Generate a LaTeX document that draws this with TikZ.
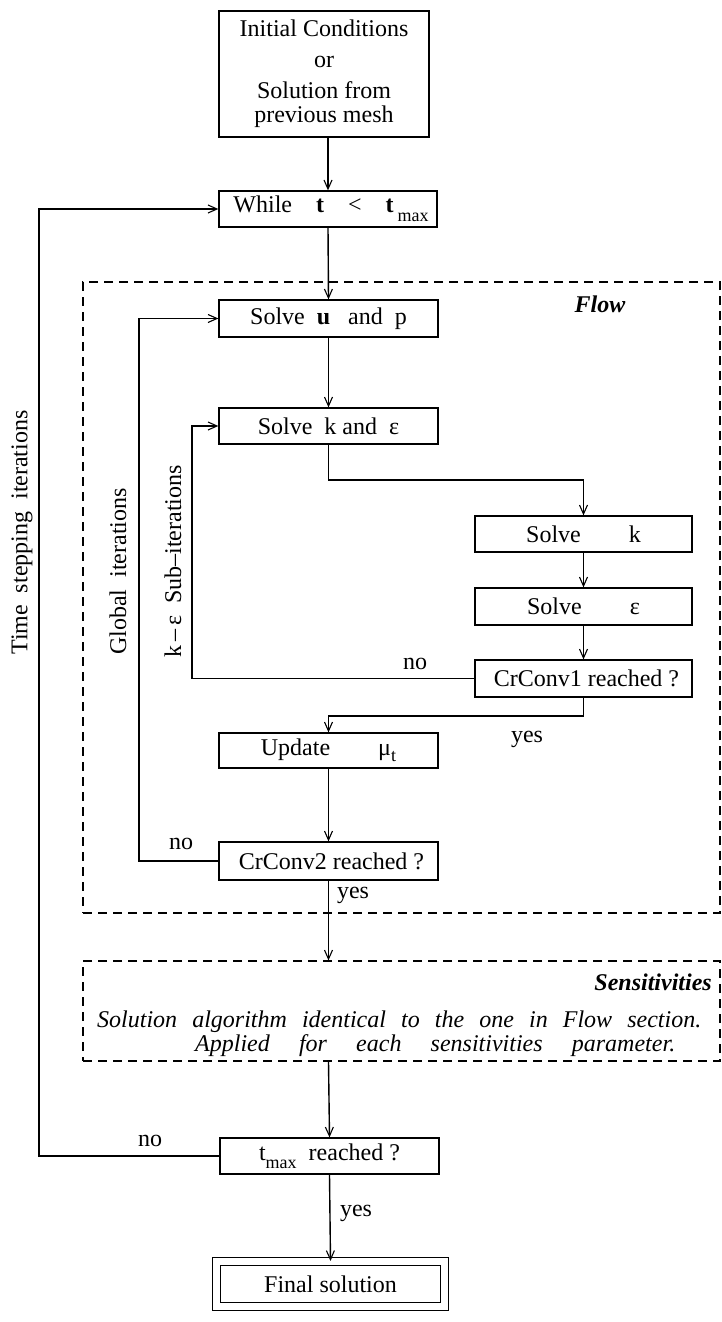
\documentclass[tikz,border=0pt]{standalone}
\usepackage{fontspec}
\setmainfont{Liberation Serif}
\usetikzlibrary{arrows.meta}
\begin{document}
\begin{tikzpicture}[x=1pt,y=-1pt,
  every node/.style={font=\fontsize{24}{28}\selectfont},
  box/.style={draw, line width=1.3pt, inner sep=0pt},
  dbox/.style={draw, line width=1.2pt, dash pattern=on 9pt off 6pt, inner sep=0pt},
  ln/.style={line width=1.4pt},
  arr/.style={ln, -{Straight Barb[length=9pt,width=8pt,line width=1.1pt]}},
  lbl/.style={inner sep=0pt},
  rot/.style={inner sep=0pt, rotate=90, anchor=west}]
\useasboundingbox (0,0) rectangle (722,1322);

% boxes
\node[box, minimum width=210pt, minimum height=126pt, align=center] (init) at (324,74)
  {\rule{0pt}{10pt}Initial Conditions\\[3pt] or\\[3pt] Solution from\\[-4pt] previous mesh};
\node[box, minimum width=218pt, minimum height=36pt] (while) at (328,209)
  {\hspace*{6pt}While\quad\textbf{t}\quad<\quad\textbf{t}\,\raisebox{-0.85ex}{\fontsize{18}{18}\selectfont max}};
\node[dbox, minimum width=637pt, minimum height=631pt] (flow) at (401.5,597.5) {};
\node[lbl, font=\fontsize{24}{28}\selectfont\bfseries\itshape] (flowlbl) at (600,304) {Flow};
\node[box, minimum width=219pt, minimum height=37pt] (solveu) at (328.5,318.5)
  {Solve\enspace\textbf{u}\enspace\ and\enspace p};
\node[box, minimum width=219pt, minimum height=36pt] (solveke) at (328.5,426)
  {Solve\enspace k and\enspace ε};
\node[box, minimum width=217pt, minimum height=36pt] (solvek) at (583.5,534)
  {Solve\qquad k};
\node[box, minimum width=217pt, minimum height=37pt] (solvee) at (583.5,606.5)
  {Solve\qquad ε};
\node[box, minimum width=217pt, minimum height=37pt] (cr1) at (583.5,678.5)
  {\ CrConv1 reached ?};
\node[box, minimum width=219pt, minimum height=35pt] (update) at (328.5,750.5)
  {Update\qquad μ\raisebox{-0.5ex}{\fontsize{18}{18}\selectfont t}};
\node[box, minimum width=219pt, minimum height=38pt] (cr2) at (328.5,861)
  {\ CrConv2 reached ?};
\node[dbox, minimum width=637pt, minimum height=100pt] (sens) at (401.5,1011) {};
\node[lbl, anchor=east, font=\fontsize{24}{28}\selectfont\bfseries\itshape] (senslbl) at (712,982) {Sensitivities};
\node[lbl, anchor=west, font=\fontsize{24}{28}\selectfont\itshape] (sens1) at (97,1022)
  {\makebox[604pt][s]{Solution algorithm identical to the one in Flow section.}};
\node[lbl, anchor=west, font=\fontsize{24}{28}\selectfont\itshape] (sens2) at (195,1046)
  {\makebox[480pt][s]{Applied for each sensitivities parameter.}};
\node[box, minimum width=219pt, minimum height=36pt] (tmax) at (329.5,1156)
  {t\raisebox{-0.75ex}{\fontsize{18}{18}\selectfont max}\enspace reached ?};
\node[box, double, double distance=7.5pt, line width=1.2pt, minimum width=228pt, minimum height=45pt] (final) at (330.5,1284)
  {Final solution};

% labels
\node[lbl] (no1) at (415,664) {no};
\node[lbl] (yes1) at (527,739) {yes};
\node[lbl] (no2) at (181,844) {no};
\node[lbl] (yes2) at (353,895) {yes};
\node[lbl] (no3) at (150,1141) {no};
\node[lbl] (yes3) at (356,1213) {yes};
\node[rot] (tslbl) at (22,655) {Time\enspace stepping\enspace iterations};
\node[rot] (glbl) at (118,655) {Global\enspace iterations};
\node[rot] (kelbl) at (173,658) {k\,–\,ε\enspace Sub–iterations};

% connectors
\draw[arr] (while.north |- init.south) -- (while.north);
\draw[arr] (while.south) -- (solveu.north);
\draw[arr] (solveu.south) -- (solveke.north);
\coordinate (c1) at (328.5,480);
\draw[arr] (solveke.south) -- (c1) -| (solvek.north);
\draw[arr] (solvek.south) -- (solvee.north);
\draw[arr] (solvee.south) -- (cr1.north);
\coordinate (c2) at (192,678.5);
\draw[arr] (cr1.west) -- (c2) |- (solveke.west);
\coordinate (c3) at (583.5,716);
\draw[arr] (cr1.south) -- (c3) -| (update.north);
\draw[arr] (update.south) -- (cr2.north);
\coordinate (c4) at (139,861);
\draw[arr] (cr2.west) -- (c4) |- (solveu.west);
\draw[arr] (cr2.south) -- (cr2.south |- sens.north);
\draw[arr] (cr2.south |- sens.south) -- (tmax.north);
\coordinate (c5) at (39,1156);
\draw[arr] (tmax.west) -- (c5) |- (while.west);
\draw[arr] (tmax.south) -- (final.north);
\end{tikzpicture}
\end{document}
